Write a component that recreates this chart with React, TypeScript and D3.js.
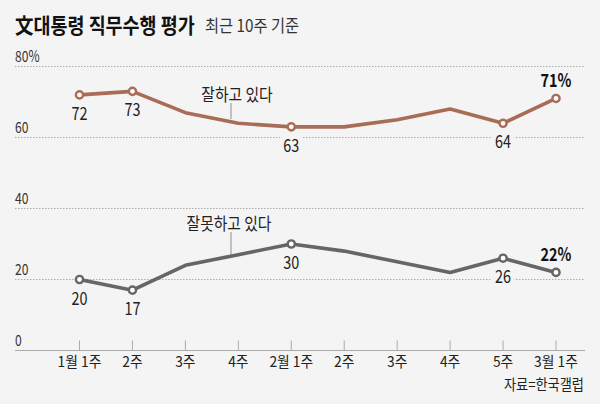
import React from "react";
import * as d3 from "d3";

const weeks = ["1월 1주", "2주", "3주", "4주", "2월 1주", "2주", "3주", "4주", "5주", "3월 1주"];
const approve = [72, 73, 67, 64, 63, 63, 65, 68, 64, 71];
const disapprove = [20, 17, 24, 27, 30, 28, 25, 22, 26, 22];
const approveLabeled = [0, 1, 4, 8, 9];
const disapproveLabeled = [0, 1, 4, 8, 9];
const yTicks = [0, 20, 40, 60, 80];

const W = 600;
const H = 404;
const FONT = "'Noto Sans CJK KR', 'Noto Sans', sans-serif";
const BROWN = "#a96c56";
const GRAY = "#666666";
const BG = "#f4f4f4";

const T = ({ x, y, children, size = 15, anchor = "start", weight = 400, sx = 0.8, fill = "#222" }: any) => (
  <g transform={`translate(${x},${y}) scale(${sx},1)`}>
    <text
      x={0}
      y={0}
      textAnchor={anchor}
      fontSize={size}
      fontWeight={weight}
      fontFamily={FONT}
      fill={fill}
    >
      {children}
    </text>
  </g>
);

export default function App() {
  const x = d3.scalePoint<number>().domain(d3.range(weeks.length)).range([79.5, 556]);
  const y = d3.scaleLinear().domain([0, 80]).range([350.5, 66.5]);
  const line = d3
    .line<number>()
    .x((_, i) => x(i)!)
    .y((d) => y(d));

  const labelBox = (cx: number, cy: number, w: number) => (
    <rect x={cx - w / 2} y={cy - 13} width={w} height={17} fill={BG} />
  );

  return (
    <svg width={W} height={H} style={{ position: "absolute", left: 0, top: 0, background: BG }}>
      <rect width={W} height={H} fill={BG} />
      {/* title */}
      <T x={15} y={33} size={21} weight={700} sx={0.88} fill="#111">文대통령 직무수행 평가</T>
      <T x={205} y={32} size={17} sx={0.9} fill="#333">최근 10주 기준</T>

      {/* grid */}
      {yTicks.filter((t) => t > 0).map((t) => (
        <line
          key={t}
          x1={15}
          x2={584}
          y1={y(t)}
          y2={y(t)}
          stroke="#9a9a9a"
          strokeWidth={0.8}
          strokeDasharray="1.5,1.5"
        />
      ))}
      {yTicks.map((t) => (
        <T key={t} x={15} y={y(t) - 5} size={15.5} sx={0.78} fill="#333">
          {t === 80 ? "80%" : String(t)}
        </T>
      ))}

      {/* x axis */}
      <line x1={15} x2={585} y1={y(0)} y2={y(0)} stroke="#aaa" strokeWidth={1.2} />
      {weeks.map((w, i) => (
        <g key={i}>
          <line x1={x(i)} x2={x(i)} y1={y(0) - 10} y2={y(0)} stroke="#aaa" strokeWidth={1} />
          <T x={x(i)!} y={367} size={15} anchor="middle" sx={0.92} fill="#222">{w}</T>
        </g>
      ))}
      <T x={584} y={390} size={15} anchor="end" sx={0.88} fill="#222">자료=한국갤럽</T>

      {/* annotation leaders */}
      <line x1={231} x2={231} y1={103} y2={y(65.2)} stroke="#777" strokeWidth={0.8} />
      <line x1={231} x2={231} y1={232} y2={y(26.3)} stroke="#777" strokeWidth={0.8} />

      {/* label backgrounds that break gridlines */}
      {labelBox(x(4)!, y(63) + 19, 22)}
      {labelBox(x(8)!, y(64) + 19, 22)}
      {labelBox(x(8)!, y(26) + 20, 22)}

      {/* lines */}
      <path d={line(approve)!} fill="none" stroke={BROWN} strokeWidth={3.6} strokeLinejoin="round" />
      <path d={line(disapprove)!} fill="none" stroke={GRAY} strokeWidth={3.6} strokeLinejoin="round" />

      {approveLabeled.map((i) => (
        <circle key={"a" + i} cx={x(i)} cy={y(approve[i])} r={3.6} fill="#fff" stroke={BROWN} strokeWidth={2.4} />
      ))}
      {disapproveLabeled.map((i) => (
        <circle key={"d" + i} cx={x(i)} cy={y(disapprove[i])} r={3.6} fill="#fff" stroke={GRAY} strokeWidth={2.4} />
      ))}

      {/* value labels */}
      {approveLabeled.map((i) =>
        i === 9 ? (
          <T key={"al" + i} x={x(i)!} y={y(approve[i]) - 11} size={18} weight={700} anchor="middle" sx={0.8} fill="#111">
            {approve[i]}%
          </T>
        ) : (
          <T key={"al" + i} x={x(i)!} y={y(approve[i]) + 25} size={18} anchor="middle" sx={0.8} fill="#222">
            {approve[i]}
          </T>
        )
      )}
      {disapproveLabeled.map((i) =>
        i === 9 ? (
          <T key={"dl" + i} x={x(i)!} y={y(disapprove[i]) - 11} size={18} weight={700} anchor="middle" sx={0.8} fill="#111">
            {disapprove[i]}%
          </T>
        ) : (
          <T key={"dl" + i} x={x(i)!} y={y(disapprove[i]) + 25} size={18} anchor="middle" sx={0.8} fill="#222">
            {disapprove[i]}
          </T>
        )
      )}

      {/* series names */}
      <T x={237} y={101} size={17} anchor="middle" sx={0.87} fill="#222">잘하고 있다</T>
      <T x={229} y={230} size={17} anchor="middle" sx={0.87} fill="#222">잘못하고 있다</T>
    </svg>
  );
}
